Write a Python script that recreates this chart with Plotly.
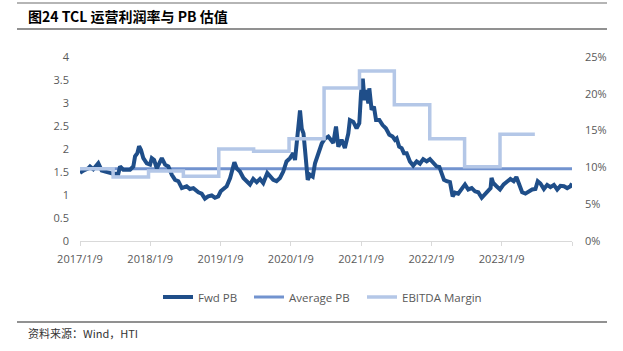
import plotly.graph_objects as go

# ---- data ----
pb_dates = [
    "2017-01-09","2017-01-26","2017-02-21","2017-03-02","2017-03-19","2017-04-14","2017-05-02","2017-05-28",
    "2017-07-01","2017-07-27","2017-08-05","2017-08-22","2017-09-26","2017-10-13","2017-10-22","2017-11-03",
    "2017-11-12","2017-11-22","2017-12-04","2017-12-22","2018-01-08","2018-01-17","2018-01-29","2018-02-12",
    "2018-03-01","2018-03-10","2018-03-27","2018-04-13","2018-05-01","2018-05-18","2018-06-04","2018-06-22",
    "2018-07-17","2018-08-03","2018-08-21","2018-09-16","2018-10-03","2018-10-20","2018-11-06","2018-11-24",
    "2018-12-11","2018-12-28","2019-01-10","2019-01-24","2019-02-10","2019-02-28","2019-03-08","2019-03-22",
    "2019-04-03","2019-04-20","2019-05-08","2019-05-25","2019-06-11","2019-06-28","2019-07-16","2019-08-02",
    "2019-08-19","2019-09-09","2019-09-23","2019-10-10","2019-10-27","2019-11-14","2019-12-01","2019-12-18",
    "2020-01-05","2020-01-22","2020-01-31","2020-02-08","2020-02-17","2020-02-26","2020-03-06","2020-03-15",
    "2020-03-23","2020-04-01","2020-04-06","2020-04-18","2020-05-02","2020-05-14","2020-05-31","2020-06-18",
    "2020-07-05","2020-07-22","2020-08-17","2020-08-31","2020-09-12","2020-09-29","2020-10-16","2020-11-03",
    "2020-11-11","2020-11-29","2020-12-16","2020-12-30","2021-01-08","2021-01-17","2021-01-26","2021-02-03",
    "2021-02-15","2021-02-20","2021-03-04","2021-03-16","2021-03-27","2021-04-13","2021-04-30","2021-05-17",
    "2021-06-04","2021-06-21","2021-07-03","2021-07-12","2021-07-25","2021-08-07","2021-08-19","2021-09-02",
    "2021-09-19","2021-10-06","2021-10-24","2021-11-10","2021-11-27","2021-12-15","2022-01-01","2022-01-19",
    "2022-02-05","2022-02-19","2022-03-03","2022-03-15","2022-03-29","2022-04-15","2022-04-29","2022-05-11",
    "2022-05-28","2022-06-15","2022-07-02","2022-07-19","2022-08-06","2022-08-23","2022-09-09","2022-09-27",
    "2022-10-14","2022-10-31","2022-11-12","2022-11-17","2022-11-26","2022-12-13","2022-12-31","2023-01-19",
    "2023-02-05","2023-02-23","2023-03-12","2023-03-26","2023-04-07","2023-04-25","2023-05-12","2023-05-29",
    "2023-06-16","2023-07-03","2023-07-15","2023-07-29","2023-08-16","2023-09-02","2023-09-19","2023-10-07",
    "2023-10-24","2023-11-10","2023-11-28","2023-12-15","2024-01-01","2024-01-09",
]
fwd_pb = [
    1.48,1.53,1.58,1.62,1.56,1.69,1.53,1.49,
    1.46,1.46,1.62,1.55,1.55,1.62,1.84,1.91,
    2.06,1.98,1.80,1.69,1.66,1.80,1.76,1.58,
    1.76,1.80,1.66,1.62,1.44,1.33,1.30,1.15,
    1.19,1.13,1.15,1.06,1.03,0.92,0.97,0.99,
    0.94,0.97,1.08,1.12,1.19,1.37,1.51,1.71,
    1.58,1.51,1.37,1.30,1.23,1.35,1.28,1.35,
    1.26,1.48,1.40,1.33,1.30,1.37,1.51,1.73,
    1.80,1.91,1.76,2.12,2.48,2.84,2.44,2.34,
    1.98,1.62,1.33,1.44,1.40,1.69,1.87,2.12,
    2.23,2.27,2.13,2.49,2.05,2.20,2.02,2.34,
    2.63,2.59,2.45,2.56,3.21,3.53,3.06,3.28,
    2.99,3.32,2.85,2.92,2.63,2.63,2.52,2.45,
    2.31,2.27,2.20,2.23,2.05,2.02,1.91,1.91,
    1.73,1.64,1.73,1.68,1.78,1.73,1.78,1.69,
    1.62,1.61,1.48,1.33,1.30,1.28,0.97,1.05,
    1.03,1.15,1.23,1.12,1.15,1.08,1.06,0.94,
    1.03,1.12,1.15,1.37,1.26,1.19,1.12,1.23,
    1.28,1.35,1.30,1.39,1.26,1.06,1.03,1.08,
    1.12,1.13,1.30,1.25,1.13,1.22,1.17,1.22,
    1.12,1.20,1.19,1.15,1.19,1.25,
]
average_pb = 1.57

margin_dates = ["2017-01-09","2017-06-30","2017-12-31","2018-06-30","2018-12-31","2019-06-30","2019-12-31",
                "2020-06-30","2020-12-31","2021-06-30","2021-12-31","2022-06-30","2022-12-31","2023-06-30"]
ebitda_margin = [9.8, 8.7, 9.5, 8.8, 12.5, 12.2, 13.9, 20.8, 23.1, 18.5, 13.9, 10.1, 14.5, 14.5]

tick_dates = ["2017-01-09","2018-01-09","2019-01-09","2020-01-09","2021-01-09","2022-01-09","2023-01-09","2024-01-09"]
tick_labels = ["2017/1/9","2018/1/9","2019/1/9","2020/1/9","2021/1/9","2022/1/9","2023/1/9",""]
pb_ticks = [0, 0.5, 1, 1.5, 2, 2.5, 3, 3.5, 4]
pb_tick_labels = ["0", "0.5", "1", "1.5", "2", "2.5", "3", "3.5", "4"]
margin_ticks = [0, 5, 10, 15, 20, 25]
margin_tick_labels = ["0%", "5%", "10%", "15%", "20%", "25%"]

title_text = "图24 TCL 运营利润率与 PB 估值"
source_text = "资料来源：Wind，HTI"

# ---- layout geometry (pixels) ----
W, H = 623, 351
L, R, T, B = 80, 572, 57, 241

def px(x):
    return (x - L) / (R - L)

def py(y):
    return (B - y) / (B - T)

FONT = "Open Sans"
GREY = "#595959"

fig = go.Figure()
fig.add_trace(go.Scatter(
    x=margin_dates, y=ebitda_margin, yaxis="y2", mode="lines", line_shape="hv",
    name="EBITDA Margin", line=dict(color="#b4c7e7", width=3.5), legend="legend3",
))
fig.add_trace(go.Scatter(
    x=[pb_dates[0], pb_dates[-1]], y=[average_pb, average_pb], mode="lines",
    name="Average PB", line=dict(color="#7293cf", width=3), legend="legend2",
))
fig.add_trace(go.Scatter(
    x=pb_dates, y=fwd_pb, mode="lines",
    name="Fwd PB", line=dict(color="#1f4e89", width=4), legend="legend",
))

def leg(line_start):
    return dict(orientation="h", x=px(line_start - 8), xanchor="left", y=py(297), yanchor="middle",
                font=dict(family=FONT, size=11.5, color=GREY), itemwidth=30,
                bgcolor="rgba(0,0,0,0)", borderwidth=0)

fig.update_layout(
    width=W, height=H,
    margin=dict(l=L, r=W - R, t=T, b=H - B, pad=0),
    paper_bgcolor="white", plot_bgcolor="white",
    font=dict(family=FONT, size=11, color=GREY),
    showlegend=True,
    legend=leg(166), legend2=leg(257), legend3=leg(370),
    xaxis=dict(
        type="date", range=["2017-01-09", "2024-01-09"],
        tickmode="array", tickvals=tick_dates, ticktext=tick_labels,
        showgrid=False, zeroline=False, showline=True, linecolor="#d9d9d9", linewidth=1,
        ticks="outside", ticklen=4, tickcolor="#d9d9d9", ticklabelstandoff=4,
        tickfont=dict(family=FONT, size=11, color=GREY),
    ),
    yaxis=dict(
        range=[0, 4], tickmode="array", tickvals=pb_ticks, ticktext=pb_tick_labels,
        showgrid=False, zeroline=False, showline=False, ticks="",
        ticklabelstandoff=10, tickfont=dict(family=FONT, size=11, color=GREY),
    ),
    yaxis2=dict(
        range=[0, 25], overlaying="y", side="right",
        tickmode="array", tickvals=margin_ticks, ticktext=margin_tick_labels,
        showgrid=False, zeroline=False, showline=False, ticks="",
        ticklabelstandoff=12, tickfont=dict(family=FONT, size=11, color=GREY),
    ),
)

line_col = "#6d6d6d"
for yy, w in [(3, 1.2), (29, 1.5), (322, 1.5)]:
    fig.add_shape(type="line", xref="paper", yref="paper",
                  x0=px(17), x1=px(607), y0=py(yy), y1=py(yy),
                  line=dict(color=line_col, width=w))

fig.add_annotation(text="<b>" + title_text + "</b>", xref="paper", yref="paper",
                   x=px(26), y=py(16), xanchor="left", yanchor="middle", showarrow=False,
                   font=dict(family="Noto Sans CJK SC", size=14, color="#000000"))
fig.add_annotation(text=source_text, xref="paper", yref="paper",
                   x=px(26), y=py(333), xanchor="left", yanchor="middle", showarrow=False,
                   font=dict(family="Noto Sans CJK SC", size=11, color="#333333"))

fig.write_html("out.html")
